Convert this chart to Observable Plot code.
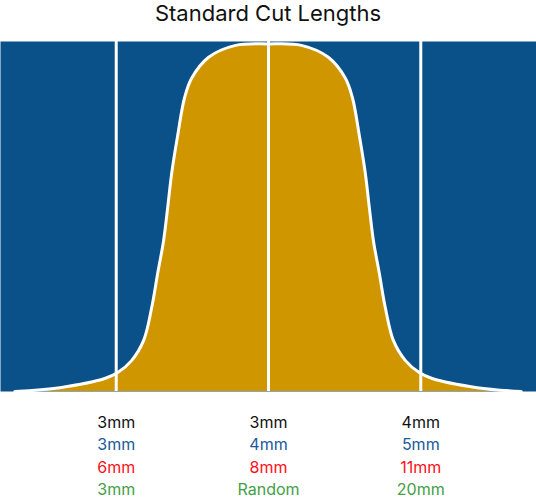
<!DOCTYPE html>
<html>
<head>
<meta charset="utf-8">
<script src="https://cdn.jsdelivr.net/npm/d3@7"></script>
<script src="https://cdn.jsdelivr.net/npm/@observablehq/plot@0.6"></script>
<style>
  html, body { margin: 0; padding: 0; background: #fff; }
  #title { width: 536px; height: 41px; text-align: center; font-family: Inter, "Noto Sans", sans-serif; font-size: 22px; line-height: 26px; color: #111; }
  #chart svg { display: block; }
</style>
</head>
<body>
<div id="title">Standard Cut Lengths</div>
<div id="chart"></div>
<script>
// Cut positions (relative units, standard cut at 0)
const cuts = [-1, 0, 1];
// Label rows beneath each cut
const row1 = ["3mm", "3mm", "4mm"];
const row2 = ["3mm", "4mm", "5mm"];
const row3 = ["6mm", "8mm", "11mm"];
const row4 = ["3mm", "Random", "20mm"];
// Distribution curve
const curveX = [-1.666, -1.370, -1.075, -0.990, -0.898, -0.820, -0.767, -0.728, -0.689, -0.662, -0.636, -0.597, -0.551, -0.505, -0.393, -0.216, 0,
                0.216, 0.393, 0.505, 0.551, 0.597, 0.636, 0.662, 0.689, 0.728, 0.767, 0.820, 0.898, 0.990, 1.075, 1.370, 1.660];
const curveY = [0, 0.011, 0.037, 0.054, 0.089, 0.146, 0.240, 0.337, 0.431, 0.526, 0.623, 0.730, 0.840, 0.895, 0.955, 0.989, 0.993,
                0.989, 0.955, 0.895, 0.840, 0.730, 0.623, 0.526, 0.431, 0.337, 0.240, 0.146, 0.089, 0.054, 0.037, 0.011, 0];
const xDomain = [-1.76, 1.76];

const curve = curveX.map((x, i) => ({x, y: curveY[i]}));
const rows = [
  {labels: row1, color: "#111111", dy: 31},
  {labels: row2, color: "#1a5a9a", dy: 53.5},
  {labels: row3, color: "#ff1020", dy: 76},
  {labels: row4, color: "#43a047", dy: 98}
];

const blue = "#0b5189";
const gold = "#d09600";

const chart = Plot.plot({
  width: 536,
  height: 457,
  marginTop: 0,
  marginBottom: 107,
  marginLeft: 0,
  marginRight: 0,
  x: {domain: xDomain, axis: null},
  y: {domain: [0, 1], axis: null},
  style: {fontFamily: "Inter, 'Noto Sans', sans-serif", fontSize: "16px", background: "white"},
  marks: [
    Plot.frame({fill: blue, stroke: null}),
    Plot.areaY(curve, {x: "x", y: "y", fill: gold, curve: "catmull-rom"}),
    Plot.lineY(curve, {x: "x", y: "y", stroke: "white", strokeWidth: 3, curve: "catmull-rom"}),
    Plot.ruleX(cuts, {stroke: "white", strokeWidth: 3}),
    ...rows.map(r => Plot.text(cuts, {x: d => d, text: (d, i) => r.labels[i], frameAnchor: "bottom", lineAnchor: "middle", dy: r.dy, fill: r.color, fontSize: 16}))
  ]
});
document.getElementById("chart").appendChild(chart);
</script>
</body>
</html>
